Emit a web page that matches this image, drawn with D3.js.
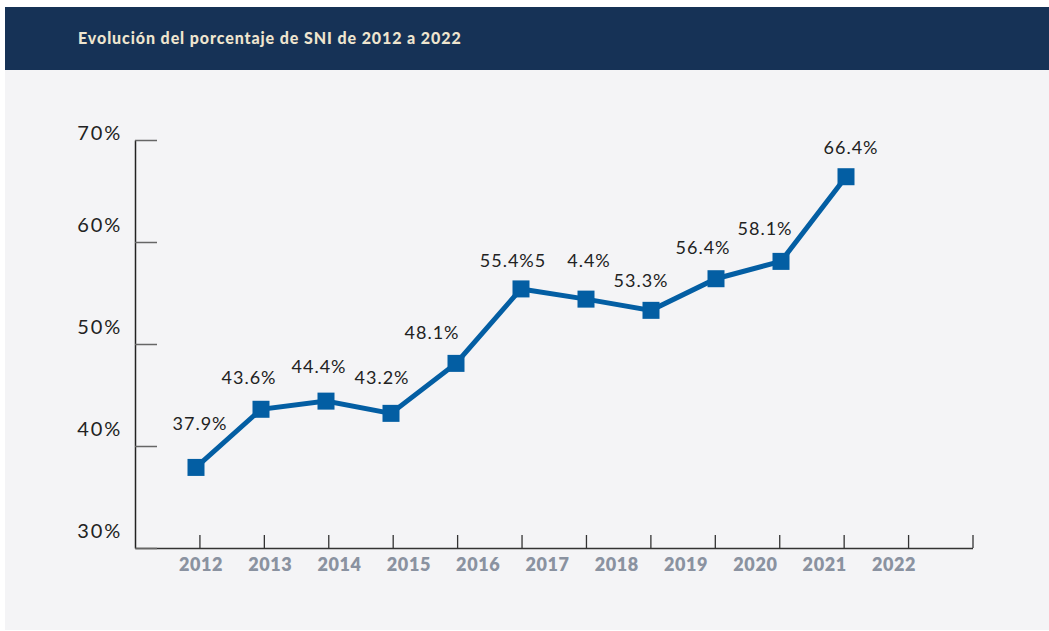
<!DOCTYPE html>
<html><head><meta charset="utf-8">
<script src="https://cdn.jsdelivr.net/npm/d3@7"></script>
<style>
html,body{margin:0;padding:0;background:#fff;}
svg{display:block;}
</style></head>
<body>
<svg id="chart" width="1049" height="631"></svg>
<script>
const title = "Evolución del porcentaje de SNI de 2012 a 2022";
const years = ["2012","2013","2014","2015","2016","2017","2018","2019","2020","2021","2022"];
const values = [37.9, 43.6, 44.4, 43.2, 48.1, 55.4, 54.4, 53.3, 56.4, 58.1, 66.4];
const valueLabels = ["37.9%","43.6%","44.4%","43.2%","48.1%","55.4%5","4.4%","53.3%","56.4%","58.1%","66.4%"];
const yTicks = [30, 40, 50, 60, 70];
const yTickLabels = ["30%","40%","50%","60%","70%"];
// label offsets (px) relative to each marker / tick, as placed in the source
const labelNudge = [[4,-37],[-12,-25],[-7,-28],[-9,-29],[-24,-24],[-8,-22],[3,-32],[-10,-23],[-13,-25],[-16,-26],[5,-23]];
const yLabelNudge = [0, 0, 0, 0, 10];

const svg = d3.select("#chart");
const W = 1049, H = 631;

// panels
svg.append("rect").attr("x",5).attr("y",70).attr("width",W-5).attr("height",560).attr("fill","#f4f4f6");
svg.append("rect").attr("x",5).attr("y",7).attr("width",W-5).attr("height",63).attr("fill","#163256");
svg.append("text").attr("x",78).attr("y",44).text(title)
  .attr("font-family","Lato, sans-serif").attr("font-weight",900).attr("font-size",16)
  .attr("letter-spacing",0.9).attr("fill","#eee5cf");

const y = d3.scaleLinear().domain([30,70]).range([548,140]);
const xAxisScale = d3.scaleLinear().domain([0,13]).range([135,972.5]);
const x = d3.scalePoint().domain(years).range([196,846]);
const xLab = d3.scalePoint().domain(years).range([201,894]);

// x axis (ticks upward)
const gx = svg.append("g").attr("transform","translate(0,548)")
  .call(d3.axisBottom(xAxisScale).tickValues(d3.range(1,14)).tickSize(-13).tickSizeOuter(0).tickFormat(""));
gx.select(".domain").attr("stroke","#333").attr("stroke-width",1.5);
gx.selectAll(".tick line").attr("stroke","#333").attr("stroke-width",1.3);

// y axis (ticks pointing right)
const gy = svg.append("g").attr("transform","translate(135,0)")
  .call(d3.axisRight(y).tickValues(yTicks).tickSize(22).tickSizeOuter(0).tickFormat(""));
gy.select(".domain").attr("stroke","#222").attr("stroke-width",1.5);
gy.selectAll(".tick line").attr("stroke","#666").attr("stroke-width",1.5);

// y tick labels
svg.append("g").selectAll("text").data(yTicks).join("text")
  .attr("x",122).attr("y",(d,i)=>y(d)-10+yLabelNudge[i]).attr("text-anchor","end")
  .attr("font-family","Lato, sans-serif").attr("font-size",20).attr("letter-spacing",1.8).attr("fill","#222")
  .text((d,i)=>yTickLabels[i]);

// year labels
svg.append("g").selectAll("text").data(years).join("text")
  .attr("x",d=>xLab(d)).attr("y",571).attr("text-anchor","middle")
  .attr("font-family","Lato, sans-serif").attr("font-weight",800).attr("font-size",18)
  .attr("letter-spacing",0.6).attr("fill","#8a92a0").text(d=>d);

// line
const line = d3.line().x((d,i)=>x(years[i])).y(d=>y(d));
svg.append("path").datum(values).attr("d",line).attr("fill","none")
  .attr("stroke","#035ea3").attr("stroke-width",5).attr("stroke-linejoin","miter");

// markers
const ms = 17;
svg.append("g").selectAll("rect").data(values).join("rect")
  .attr("x",(d,i)=>x(years[i])-ms/2).attr("y",d=>y(d)-ms/2)
  .attr("width",ms).attr("height",ms).attr("fill","#035ea3");

// value labels
svg.append("g").selectAll("text").data(values).join("text")
  .attr("x",(d,i)=>x(years[i])+labelNudge[i][0]).attr("y",(d,i)=>y(d)+labelNudge[i][1])
  .attr("text-anchor","middle").attr("font-family","Lato, sans-serif").attr("font-size",18)
  .attr("letter-spacing",1).attr("fill","#222").text((d,i)=>valueLabels[i]);
</script>
</body></html>
